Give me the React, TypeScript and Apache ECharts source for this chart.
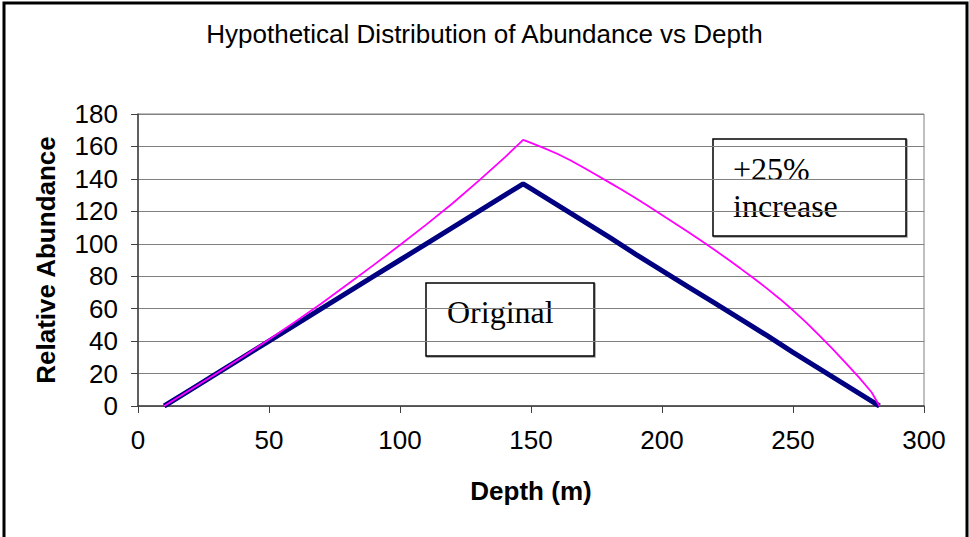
import React, { useEffect, useRef } from "react";
import * as echarts from "echarts";

const depthsOriginal = [10, 20, 30, 40, 50, 60, 70, 80, 90, 100, 110, 120, 130, 140, 147, 150, 160, 170, 180, 190, 200, 210, 220, 230, 240, 250, 260, 270, 280, 283];
const original = [0, 10, 20, 30, 40, 50, 60, 70, 80, 90, 100, 110, 120, 130, 137, 134, 124, 114, 104, 93.5, 83.5, 73.5, 63.5, 53.5, 43.5, 33, 23, 13, 3, 0];

const depthsIncreased = [10, 20, 30, 40, 50, 60, 70, 80, 90, 100, 110, 120, 130, 140, 147, 150, 155, 160, 165, 170, 175, 180, 185, 190, 195, 200, 205, 210, 215, 220, 225, 230, 235, 240, 245, 250, 255, 260, 265, 270, 275, 280, 283];
const increased = [0, 10, 20, 30.3, 41, 52, 63.2, 75, 87, 99.2, 111.8, 124.8, 138.8, 153.3, 164, 162.2, 159, 155.5, 151.5, 147, 142.4, 137.7, 133, 128, 123, 117.8, 112.5, 107.2, 101.8, 96.3, 90.6, 84.7, 78.7, 72.5, 66, 59, 51.5, 43.5, 35.3, 26.8, 18, 8.5, 0];

const titleText = "Hypothetical Distribution of Abundance vs Depth";
const xName = "Depth (m)";
const yName = "Relative Abundance";
const boxOriginal = ["Original"];
const boxIncrease = ["+25%", "increase"];

export default function App() {
  const ref = useRef<HTMLDivElement>(null);
  useEffect(() => {
    if (!ref.current) return;
    const chart = echarts.init(ref.current, undefined, { renderer: "svg" });
    const sans = "Liberation Sans";
    const serif = "Liberation Serif";
    chart.setOption({
      animation: false,
      backgroundColor: "#ffffff",
      title: {
        text: titleText,
        left: "center",
        top: 21,
        padding: 0,
        textStyle: { fontSize: 26, fontWeight: "normal", fontFamily: sans, color: "#000" },
      },
      grid: {
        left: 138,
        right: 45,
        top: 114,
        bottom: 131,
        show: true,
        borderColor: "#808080",
        borderWidth: 1,
        backgroundColor: "transparent",
      },
      xAxis: {
        type: "value",
        min: 0,
        max: 300,
        interval: 50,
        name: xName,
        nameLocation: "middle",
        nameGap: 72,
        nameTextStyle: { fontSize: 26, fontWeight: "bold", fontFamily: sans, color: "#000" },
        axisLine: { lineStyle: { color: "#404040", width: 1.5 } },
        axisTick: { show: true, inside: false, length: 7, lineStyle: { color: "#404040" } },
        axisLabel: { margin: 21, fontSize: 26, fontFamily: sans, color: "#000" },
        splitLine: { show: false },
      },
      yAxis: {
        type: "value",
        min: 0,
        max: 180,
        interval: 20,
        name: yName,
        nameLocation: "middle",
        nameRotate: 90,
        nameGap: 79,
        nameTextStyle: { fontSize: 26, fontWeight: "bold", fontFamily: sans, color: "#000" },
        axisLine: { show: true, lineStyle: { color: "#404040", width: 1.5 } },
        axisTick: { show: true, inside: false, length: 7, lineStyle: { color: "#404040" } },
        axisLabel: { margin: 20, fontSize: 26, fontFamily: sans, color: "#000" },
        splitLine: { show: true, lineStyle: { color: "#808080", width: 1 } },
      },
      series: [
        {
          name: "+25% increase",
          type: "line",
          data: depthsIncreased.map((d, i) => [d, increased[i]]),
          showSymbol: false,
          lineStyle: { color: "#ff00ff", width: 1.8 },
          z: 3,
        },
        {
          name: "Original",
          type: "line",
          data: depthsOriginal.map((d, i) => [d, original[i]]),
          showSymbol: false,
          lineStyle: { color: "#000080", width: 5 },
          z: 2,
        },
      ],
      graphic: [
        {
          type: "rect",
          silent: true,
          shape: { x: 4, y: 3, width: 963, height: 600 },
          style: { fill: "none", stroke: "#000", lineWidth: 3 },
          z: 100,
        },
        {
          type: "group",
          x: 426,
          y: 283,
          z: 50,
          children: [
            {
              type: "rect",
              shape: { x: 0, y: 0, width: 168, height: 73 },
              style: { fill: "#fff", stroke: "#000", lineWidth: 1.5, shadowColor: "rgba(0,0,0,0.4)", shadowOffsetX: 1, shadowOffsetY: 1, shadowBlur: 1 },
            },
            {
              type: "text",
              x: 21,
              y: 29,
              style: { text: boxOriginal[0], fontSize: 32, fontFamily: serif, fill: "#000", verticalAlign: "middle" },
            },
          ],
        },
        {
          type: "group",
          x: 713,
          y: 139,
          z: 50,
          children: [
            {
              type: "rect",
              shape: { x: 0, y: 0, width: 193, height: 97 },
              style: { fill: "#fff", stroke: "#000", lineWidth: 1.5, shadowColor: "rgba(0,0,0,0.4)", shadowOffsetX: 1, shadowOffsetY: 1, shadowBlur: 1 },
            },
            {
              type: "text",
              x: 20,
              y: 30,
              style: { text: boxIncrease[0], fontSize: 32, fontFamily: serif, fill: "#000", verticalAlign: "middle" },
            },
            {
              type: "text",
              x: 20,
              y: 67,
              style: { text: boxIncrease[1], fontSize: 32, fontFamily: serif, fill: "#000", verticalAlign: "middle" },
            },
          ],
        },
      ],
    });
    return () => chart.dispose();
  }, []);
  return (
    <div
      ref={ref}
      style={{ position: "absolute", left: 0, top: 0, width: 969, height: 537, background: "#fff" }}
    />
  );
}
